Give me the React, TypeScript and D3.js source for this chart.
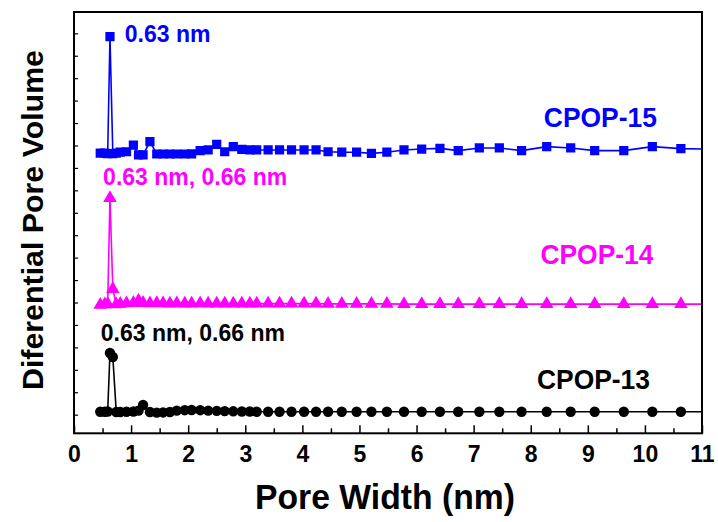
import React, { useEffect, useRef } from "react";
import * as d3 from "d3";

// pore width grid (nm), shared by the three samples
const poreWidth = [
  0.46, 0.54, 0.59, 0.63, 0.68, 0.74, 0.81, 0.92, 1.04, 1.13, 1.21, 1.33, 1.45,
  1.56, 1.68, 1.8, 1.94, 2.06, 2.21, 2.35, 2.5, 2.64, 2.79, 2.94, 3.08, 3.2, 3.4,
  3.6, 3.81, 4.03, 4.24, 4.45, 4.69, 4.95, 5.21, 5.48, 5.78, 6.09, 6.41, 6.73,
  7.1, 7.45, 7.84, 8.28, 8.7, 9.12, 9.63, 10.13, 10.63, 11.2,
];

// stacked differential pore volume (arbitrary units, offset per sample)
const cpop15 = [
  11.66, 11.66, 11.64, 16.85, 11.64, 11.66, 11.7, 11.72, 12.02, 11.58, 11.58,
  12.17, 11.62, 11.62, 11.62, 11.62, 11.62, 11.63, 11.77, 11.8, 12.05, 11.72,
  11.95, 11.83, 11.8, 11.8, 11.8, 11.8, 11.8, 11.8, 11.8, 11.72, 11.7, 11.7,
  11.65, 11.7, 11.8, 11.84, 11.87, 11.77, 11.89, 11.89, 11.77, 11.95, 11.89,
  11.77, 11.77, 11.95, 11.86, 11.83,
];
const cpop14 = [
  4.9, 4.92, 4.94, 9.66, 5.6, 4.92, 4.94, 4.96, 4.98, 5.08, 4.98, 4.96, 4.97,
  4.96, 4.95, 4.96, 4.95, 4.95, 4.96, 4.95, 4.95, 4.95, 4.95, 4.95, 4.95, 4.95,
  4.95, 4.95, 4.95, 4.95, 4.95, 4.94, 4.94, 4.94, 4.94, 4.94, 4.93, 4.93, 4.93,
  4.93, 4.93, 4.93, 4.93, 4.93, 4.93, 4.93, 4.93, 4.93, 4.93, 4.93,
];
const cpop13 = [
  0.13, 0.13, 0.14, 2.75, 2.57, 0.12, 0.12, 0.13, 0.14, 0.18, 0.43, 0.12, 0.09,
  0.1, 0.12, 0.18, 0.2, 0.21, 0.2, 0.18, 0.17, 0.16, 0.15, 0.14, 0.14, 0.13,
  0.13, 0.13, 0.13, 0.13, 0.13, 0.13, 0.13, 0.13, 0.13, 0.13, 0.13, 0.13, 0.13,
  0.13, 0.13, 0.13, 0.13, 0.13, 0.13, 0.13, 0.13, 0.13, 0.13, 0.13,
];

const xTicks = d3.range(0, 12);
const xMinorTicks = d3.range(0.5, 11, 1);
const yTicks = d3.range(0, 18);

const seriesNames = ["CPOP-15", "CPOP-14", "CPOP-13"];
const seriesColors = ["#0000ff", "#ff00ff", "#000000"];
const peakNotes = ["0.63 nm", "0.63 nm, 0.66 nm", "0.63 nm, 0.66 nm"];

const App = () => {
  const ref = useRef<SVGSVGElement | null>(null);

  useEffect(() => {
    draw();
  });

  const draw = () => {
    const svg = d3.select(ref.current);
    svg.selectAll("*").remove();

    const left = 74;
    const right = 702;
    const top = 12;
    const bottom = 433.3;
    const font = "'Liberation Sans', Arial, sans-serif";

    const x = d3.scaleLinear().domain([0, 11]).range([left, right]);
    const y = d3.scaleLinear().domain([-0.83, 17.95]).range([bottom, top]);

    svg
      .append("defs")
      .append("clipPath")
      .attr("id", "plot-clip")
      .append("rect")
      .attr("x", left)
      .attr("y", top)
      .attr("width", right - left)
      .attr("height", bottom - top);

    // axes (inward ticks)
    const xAxis = svg
      .append("g")
      .attr("transform", `translate(0,${bottom})`)
      .call(
        d3
          .axisBottom(x)
          .tickValues(xTicks)
          .tickSize(-8)
          .tickPadding(12)
          .tickFormat(d3.format("d"))
      );
    xAxis.select(".domain").remove();
    xAxis
      .selectAll("text")
      .attr("font-size", 23)
      .attr("font-weight", "bold")
      .attr("font-family", font)
      .attr("fill", "#000");
    xAxis.selectAll("line").attr("stroke-width", 1.5);

    const xMinor = svg
      .append("g")
      .attr("transform", `translate(0,${bottom})`)
      .call(d3.axisBottom(x).tickValues(xMinorTicks).tickSize(-5).tickFormat(() => ""));
    xMinor.select(".domain").remove();
    xMinor.selectAll("line").attr("stroke-width", 1.5);

    const yAxis = svg
      .append("g")
      .attr("transform", `translate(${left},0)`)
      .call(d3.axisLeft(y).tickValues(yTicks).tickSize(-4).tickFormat(() => ""));
    yAxis.select(".domain").remove();
    yAxis.selectAll("line").attr("stroke-width", 1.2);

    const allSeries = [cpop15, cpop14, cpop13];
    const symbols = [d3.symbolSquare, d3.symbolTriangle, d3.symbolCircle];
    const sizes = [85, 80, 85];

    const plot = svg.append("g").attr("clip-path", "url(#plot-clip)");

    allSeries.forEach((values, i) => {
      const pts = poreWidth.map((w, j) => [w, values[j]] as [number, number]);
      const line = d3
        .line<[number, number]>()
        .x((d) => x(d[0]))
        .y((d) => y(d[1]));

      plot
        .append("path")
        .attr("d", line(pts))
        .attr("fill", "none")
        .attr("stroke", seriesColors[i])
        .attr("stroke-width", 1.6);

      plot
        .selectAll(null)
        .data(pts)
        .enter()
        .append("path")
        .attr("transform", (d) => `translate(${x(d[0])},${y(d[1])})`)
        .attr("d", d3.symbol().type(symbols[i]).size(sizes[i]))
        .attr("fill", seriesColors[i]);
    });

    // series labels and peak notes (data coords)
    const nameX = [8.23, 8.17, 8.11];
    const nameY = [12.84, 6.72, 1.13];
    const noteX = [0.89, 0.51, 0.47];
    const noteY = [16.63, 10.24, 3.3];

    seriesNames.forEach((name, i) => {
      svg
        .append("text")
        .attr("x", x(nameX[i]))
        .attr("y", y(nameY[i]))
        .attr("font-family", font)
        .attr("font-weight", "bold")
        .attr("font-size", 28)
        .attr("textLength", 113)
        .attr("lengthAdjust", "spacingAndGlyphs")
        .attr("fill", seriesColors[i])
        .text(name);

      svg
        .append("text")
        .attr("x", x(noteX[i]))
        .attr("y", y(noteY[i]))
        .attr("font-family", font)
        .attr("font-weight", "bold")
        .attr("font-size", 23)
        .attr("fill", seriesColors[i])
        .text(peakNotes[i]);
    });

    // frame
    svg
      .append("rect")
      .attr("x", left)
      .attr("y", top)
      .attr("width", right - left)
      .attr("height", bottom - top)
      .attr("fill", "none")
      .attr("stroke", "#000")
      .attr("stroke-width", 2);

    // axis titles
    svg
      .append("text")
      .attr("x", 385)
      .attr("y", 509)
      .attr("text-anchor", "middle")
      .attr("font-family", font)
      .attr("font-weight", "bold")
      .attr("font-size", 35)
      .attr("textLength", 260)
      .attr("lengthAdjust", "spacingAndGlyphs")
      .text("Pore Width (nm)");

    svg
      .append("text")
      .attr("transform", "translate(43,220) rotate(-90)")
      .attr("text-anchor", "middle")
      .attr("font-family", font)
      .attr("font-weight", "bold")
      .attr("font-size", 30)
      .attr("textLength", 340)
      .attr("lengthAdjust", "spacingAndGlyphs")
      .text("Diferential Pore Volume");
  };

  return (
    <svg
      ref={ref}
      width={718}
      height={522}
      style={{ position: "absolute", left: 0, top: 0, background: "#fff" }}
    />
  );
};

export default App;
